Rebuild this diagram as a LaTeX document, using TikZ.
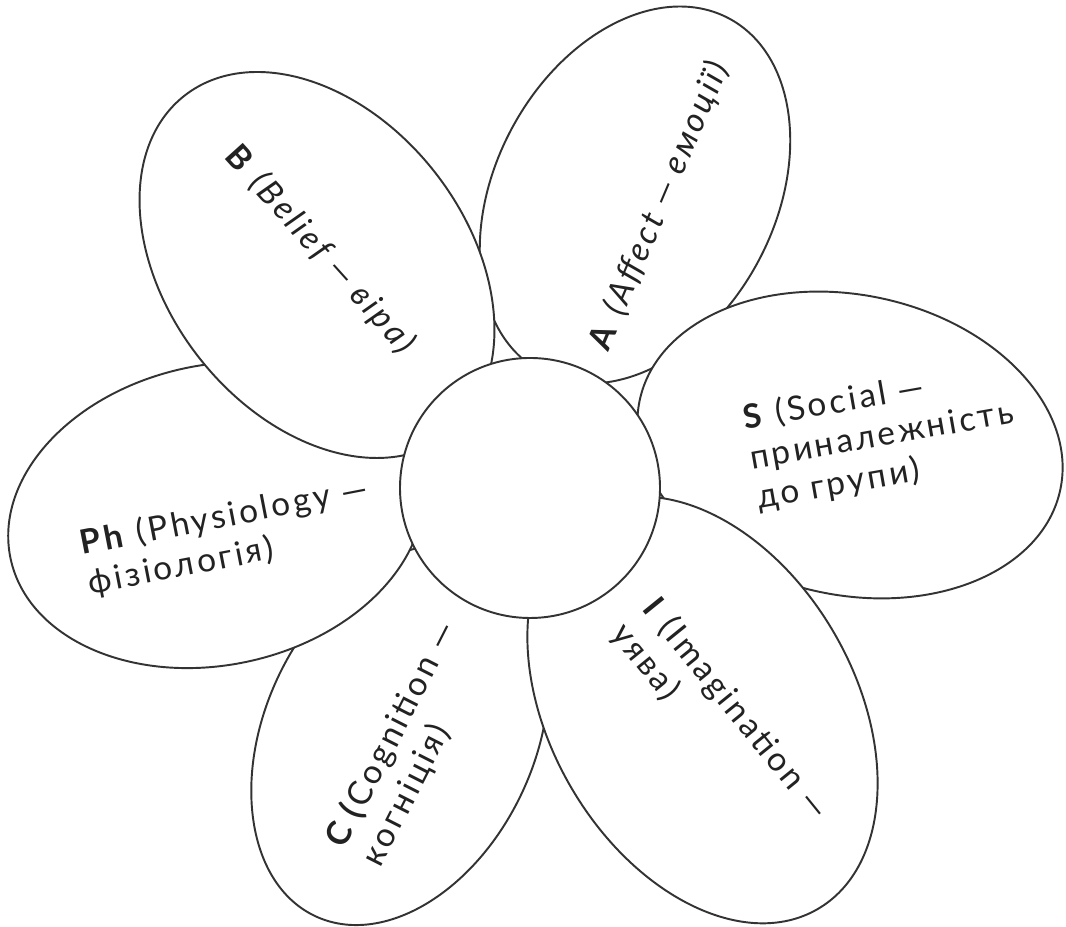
\documentclass[tikz,border=0pt]{standalone}
\usepackage{fontspec}
\setmainfont{Lato}[LetterSpace=9]
\usepackage{tikz}
\usetikzlibrary{positioning,shapes.geometric}

\definecolor{outline}{HTML}{333333}
\definecolor{ink}{HTML}{222222}

\tikzset{
	petal/.style={ellipse, draw=outline, fill=white, line width=1.1pt, inner sep=0pt},
	core/.style={circle, draw=outline, fill=white, line width=1.1pt, minimum size=5.2cm, inner sep=0pt},
	label/.style={text=ink, font=\fontsize{19}{23}\selectfont, align=left, inner sep=0pt}
}

\begin{document}
\begin{tikzpicture}
		\useasboundingbox (0,0) rectangle (21.32,18.54);

		% petals, back to front
		\node[petal, minimum width=8.0cm, minimum height=5.6cm, rotate=62] (pa) at (12.70,14.64) {};
		\node[petal, minimum width=8.6cm, minimum height=6.0cm, rotate=-12] (ps) at (17.00,9.64) {};
		\node[petal, minimum width=8.0cm, minimum height=5.4cm, rotate=65] (pc) at (8.00,3.84) {};
		\node[petal, minimum width=9.2cm, minimum height=6.1cm, rotate=-60] (pi) at (14.05,4.34) {};
		\node[petal, minimum width=8.4cm, minimum height=6.0cm, rotate=12] (pph) at (4.32,8.24) {};
		\node[petal, minimum width=8.6cm, minimum height=6.0cm, rotate=-52] (pb) at (6.34,13.24) {};

		% centre of the flower
		\node[core] (centre) at (10.60,8.78) {};

		% texts of the petals
		\node[label, rotate=-48] (tb) at (6.42,13.52) {\textbf{B} \textit{(Belief — віра)}};
		\node[label, rotate=67] (ta) at (13.20,14.45) {\textbf{A} \textit{(Affect — емоції)}};
		\node[label, rotate=10] (ts) at (17.64,9.82) {\textbf{S} (Social —\\приналежність\\до групи)};
		\node[label, rotate=11] (tph) at (4.56,7.80) {\textbf{Ph} (Physiology —\\фізіологія)};
		\node[label, rotate=63] (tc) at (8.20,3.66) {\textbf{C (}Cognition —\\когніція)};
		\node[label, rotate=-51] (ti) at (14.40,4.10) {\textbf{I} (Imagination —\\уява)};

	\end{tikzpicture}
\end{document}
